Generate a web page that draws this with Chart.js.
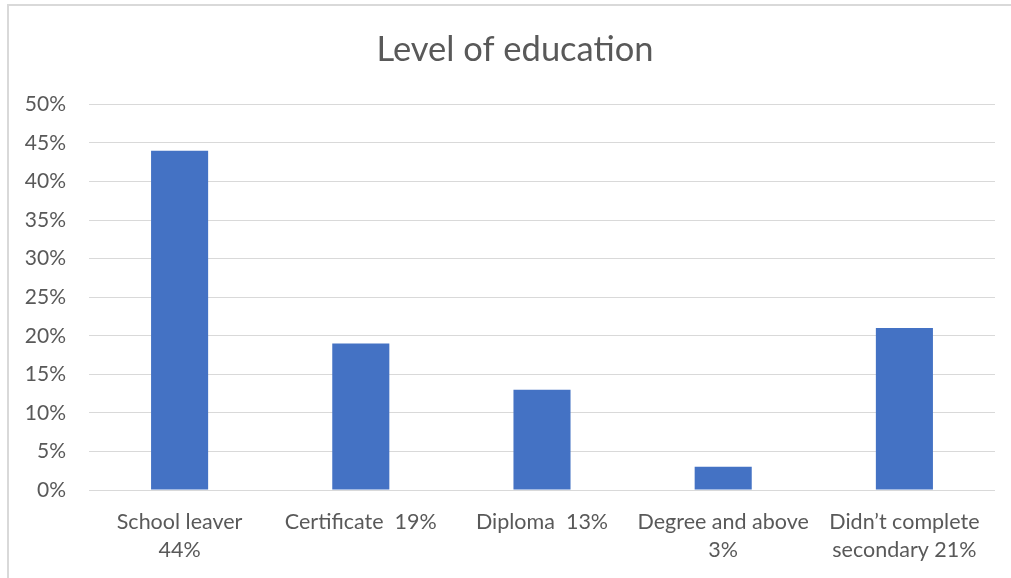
<!DOCTYPE html>
<html>
<head>
<meta charset="utf-8">
<script src="https://cdn.jsdelivr.net/npm/chart.js@4"></script>
<style>
  html, body { margin: 0; padding: 0; background: #fff; overflow: hidden; width: 1011px; height: 578px; }
  #frame { position: absolute; left: 7px; top: 4px; width: 1100px; height: 700px;
           border-left: 2px solid #d9d9d9; border-top: 2px solid #d9d9d9; }
  #chart { position: absolute; left: 0; top: 0; }
</style>
</head>
<body>
<div id="frame"></div>
<canvas id="chart" width="1030" height="578"></canvas>
<script>
const categories = [
    ['School leaver', '44%'],
    'Certificate  19%',
    'Diploma  13%',
    ['Degree and above', '3%'],
    ['Didn\u2019t complete', 'secondary 21%']
];
const shares = [44, 19, 13, 3, 21];
const yTicks = [0, 5, 10, 15, 20, 25, 30, 35, 40, 45, 50];

const textColor = '#595959';
const gridColor = '#d9d9d9';
const fontFamily = 'Lato, "Open Sans", sans-serif';

// centre the title on the full frame rather than on the padded box
const titleShift = {
    id: 'titleShift',
    afterLayout(chart) {
        if (chart.titleBlock) chart.titleBlock.left += 35;
    }
};

const ctx = document.getElementById('chart').getContext('2d');

new Chart(ctx, {
    type: 'bar',
    data: {
        labels: categories,
        datasets: [{
            label: 'Level of education',
            data: shares,
            backgroundColor: '#4472c4',
            borderWidth: 0,
            categoryPercentage: 1,
            barPercentage: 0.315
        }]
    },
    plugins: [titleShift],
    options: {
        responsive: false,
        animation: false,
        layout: { padding: { top: 10, right: 35, bottom: 0, left: 0 } },
        plugins: {
            legend: { display: false },
            tooltip: { enabled: false },
            title: {
                display: true,
                text: 'Level of education',
                color: textColor,
                font: { family: fontFamily, size: 34.5, weight: 'normal', lineHeight: 1.2 },
                padding: { top: 19, bottom: 34 }
            }
        },
        scales: {
            x: {
                grid: { display: false, drawTicks: false },
                border: { display: false },
                ticks: {
                    color: textColor,
                    padding: 18,
                    maxRotation: 0,
                    autoSkip: false,
                    font: { family: fontFamily, size: 21.5, lineHeight: 1.3 }
                },
                afterFit: scale => { scale.height = 88; }
            },
            y: {
                min: 0,
                max: 50,
                afterBuildTicks: scale => { scale.ticks = yTicks.map(v => ({ value: v })); },
                grid: { color: gridColor, lineWidth: 1, drawTicks: false },
                border: { display: false },
                ticks: {
                    color: textColor,
                    padding: 23,
                    font: { family: fontFamily, size: 21 },
                    callback: v => v + '%'
                },
                afterFit: scale => { scale.width = 89; }
            }
        }
    }
});
</script>
</body>
</html>
